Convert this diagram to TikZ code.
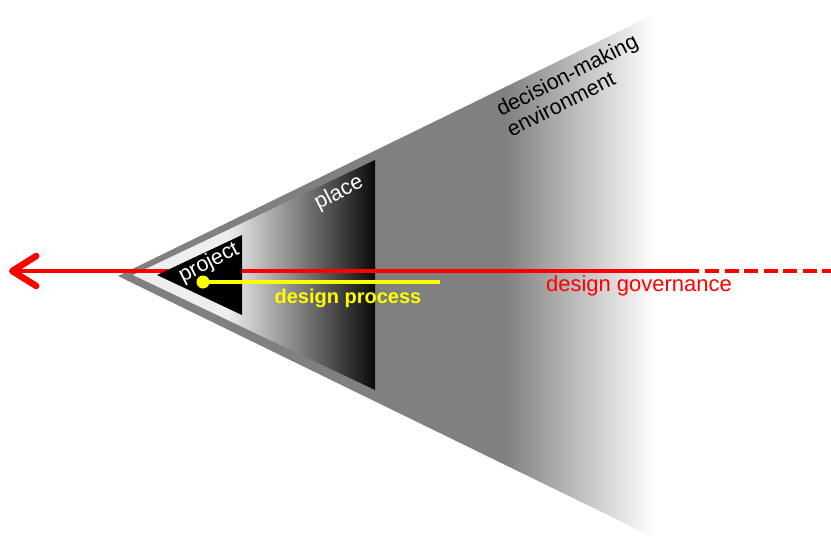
\documentclass[tikz,border=0pt]{standalone}
\usepackage{fontspec}
\setmainfont{Liberation Sans}
\usetikzlibrary{
    arrows.meta,
    shapes.geometric
}
\definecolor{envgray}{RGB}{128,128,128}
\definecolor{placelight}{RGB}{238,238,238}
\definecolor{placedark}{RGB}{10,10,10}
\definecolor{govred}{RGB}{255,0,0}
\definecolor{procyellow}{RGB}{255,255,0}
% horizontal fades (the middle 25bp--75bp covers the shaded path)
\pgfdeclarehorizontalshading{envfade}{100bp}{color(0bp)=(envgray); color(61bp)=(envgray); color(75bp)=(white); color(100bp)=(white)}
\pgfdeclarehorizontalshading{placefade}{100bp}{color(0bp)=(placelight); color(44.5bp)=(placelight); color(75bp)=(placedark); color(100bp)=(placedark)}
\tikzset{
    labelfont/.style={
        font=\fontsize{21.5}{23}\selectfont,
        inner sep=0pt
    },
    zonelabel/.style={
        labelfont,
        rotate=27
    },
    governance/.style={
        draw=govred,
        line width=4pt
    },
    governancetip/.style={
        governance,
        -{Straight Barb[length=24pt, width=30pt, line width=6.5pt, round]}
    },
    governancedash/.style={
        governance,
        dash pattern=on 14pt off 5.5pt
    },
    process/.style={
        draw=procyellow,
        line width=4pt
    },
    processdot/.style={
        circle,
        fill=procyellow,
        minimum size=13pt,
        inner sep=0pt
    }
}

\begin{document}
\begin{tikzpicture}[x=1pt, y=-1pt]
\useasboundingbox (0,0) rectangle (831,536);

% --- Nested zones ---
% decision-making environment
\shade[shading=envfade] (118,276) -- (655,14) -- (655,538) -- cycle;
% place
\shade[shading=placefade] (133,275) -- (375,160) -- (375,390) -- cycle;

% --- Design governance (passes under the project) ---
\coordinate (govtip) at (9,271);
\coordinate (govsolid) at (699,271);
\coordinate (govdash) at (705,271);
\coordinate (govend) at (835,271);
\draw[governancetip] (govsolid) -- (govtip);
\draw[governancedash] (govdash) -- (govend);

% project
\fill[black] (157,275) -- (242,235) -- (242,315) -- cycle;

% --- Zone labels ---
\node[zonelabel, text=white] (projectlabel) at (209,263) {project};
\node[zonelabel, text=white] (placelabel) at (339,193) {place};
\node[zonelabel, align=left] (envlabel) at (572,85) {decision-making\\environment};

% --- Design process ---
\node[processdot] (processstart) at (203,282) {};
\coordinate (processend) at (440,282);
\draw[process] (processstart.center) -- (processend);

\node[labelfont, font=\fontsize{20}{22}\selectfont\bfseries, text=procyellow] (processlabel) at (348,298) {design process};
\node[labelfont, font=\fontsize{22}{24}\selectfont, text=govred] (governancelabel) at (639,286) {design governance};

\end{tikzpicture}
\end{document}
